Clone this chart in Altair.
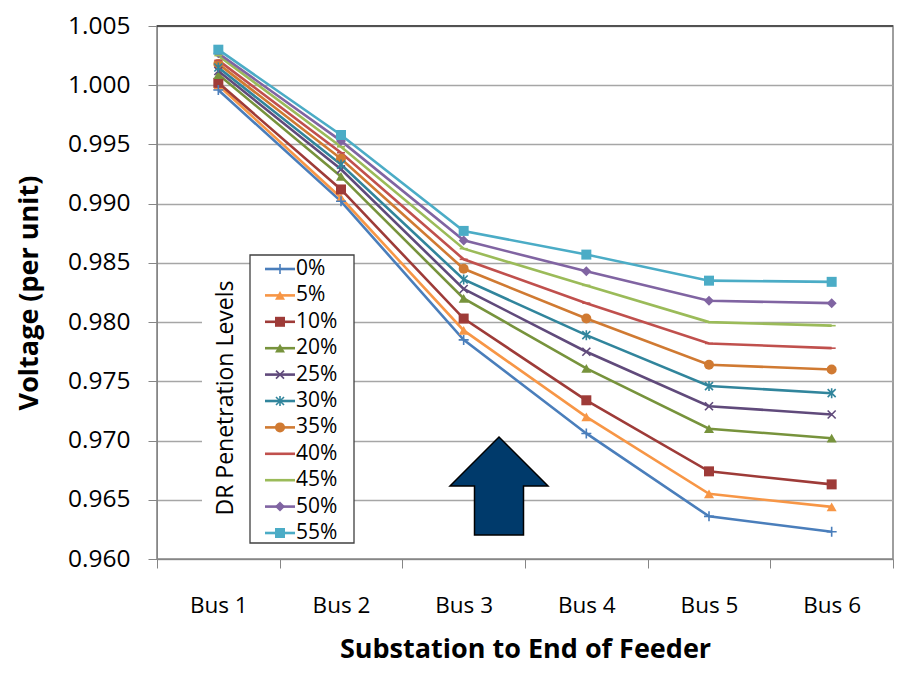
import altair as alt
import pandas as pd

buses = ["Bus 1", "Bus 2", "Bus 3", "Bus 4", "Bus 5", "Bus 6"]
levels = ["0%", "5%", "10%", "20%", "25%", "30%", "35%", "40%", "45%", "50%", "55%"]

v_0 = [0.9996, 0.9902, 0.9785, 0.9706, 0.9636, 0.9623]
v_5 = [1.0000, 0.9905, 0.9793, 0.9720, 0.9655, 0.9644]
v_10 = [1.0002, 0.9912, 0.9803, 0.9734, 0.9674, 0.9663]
v_20 = [1.0009, 0.9923, 0.9820, 0.9761, 0.9710, 0.9702]
v_25 = [1.0012, 0.9929, 0.9828, 0.9775, 0.9729, 0.9722]
v_30 = [1.0015, 0.9933, 0.9836, 0.9789, 0.9746, 0.9740]
v_35 = [1.0018, 0.9938, 0.9845, 0.9803, 0.9764, 0.9760]
v_40 = [1.0021, 0.9943, 0.9853, 0.9816, 0.9782, 0.9778]
v_45 = [1.0025, 0.9948, 0.9862, 0.9831, 0.9800, 0.9797]
v_50 = [1.0027, 0.9953, 0.9869, 0.9843, 0.9818, 0.9816]
v_55 = [1.0030, 0.9958, 0.9877, 0.9857, 0.9835, 0.9834]
series = [v_0, v_5, v_10, v_20, v_25, v_30, v_35, v_40, v_45, v_50, v_55]

y_ticks = [0.960, 0.965, 0.970, 0.975, 0.980, 0.985, 0.990, 0.995, 1.000, 1.005]

colors = ["#4A7EBB", "#F79646", "#9E3B38", "#77933C", "#604A7B", "#31859C",
          "#D07A32", "#C0504D", "#9BBB59", "#8064A2", "#4BACC6"]
PLUS = "M-1,0L1,0M0,-1L0,1"
XSH = "M-0.8,-0.8L0.8,0.8M-0.8,0.8L0.8,-0.8"
AST = "M-0.8,-0.8L0.8,0.8M-0.8,0.8L0.8,-0.8M0,-1L0,1"
DASH = "M-0.8,0L0.8,0"
shapes = [PLUS, "triangle-up", "square", "triangle-up", XSH, AST,
          "circle", DASH, DASH, "diamond", "square"]
filled_levels = ["5%", "10%", "20%", "35%", "50%", "55%"]
stroked_levels = ["0%", "25%", "30%", "40%", "45%"]

ARROW = "M0,-1L1,0L0.5,0L0.5,1L-0.5,1L-0.5,0L-1,0Z"

rows = [{"bus": b, "level": lv, "voltage": v}
        for lv, vals in zip(levels, series) for b, v in zip(buses, vals)]
df = pd.DataFrame(rows)
leg_df = pd.DataFrame({"level": levels})
one = pd.DataFrame({"a": [1]})

FONT = "Open Sans"
W, H = 736, 533
LW = 2.6

color_scale = alt.Scale(domain=levels, range=colors)
shape_scale = alt.Scale(domain=levels, range=shapes)
col = alt.Color("level:N", scale=color_scale, legend=None)
shp = alt.Shape("level:N", scale=shape_scale, legend=None)

x_enc = alt.X(
    "bus:N", sort=buses, bandPosition=0.5,
    scale=alt.Scale(type="band", domain=buses, paddingInner=0, paddingOuter=0),
    axis=alt.Axis(title="Substation to End of Feeder", labelAngle=0, tickBand="extent",
                  labelFontSize=22.5, labelPadding=26, tickSize=9, grid=False,
                  titleFontSize=27, titleFontWeight="bold", titleX=368, titleY=98,
                  titleBaseline="alphabetic", titleAlign="center"),
)
y_enc = alt.Y(
    "voltage:Q",
    scale=alt.Scale(domain=[0.960, 1.005], nice=False, zero=False),
    axis=alt.Axis(title="Voltage (per unit)", values=y_ticks, format=".3f",
                  labelFontSize=24.5, labelPadding=18, tickSize=9, grid=True,
                  gridColor="#A6A6A6", gridWidth=1.3,
                  titleFontSize=27, titleFontWeight="bold", titleX=-128, titleY=H / 2,
                  titleBaseline="middle", titleAlign="center"),
)

lines = alt.Chart(df).mark_line(strokeWidth=LW).encode(x=x_enc, y=y_enc, color=col)
pts_f = alt.Chart(df).transform_filter(
    alt.FieldOneOfPredicate(field="level", oneOf=filled_levels)
).mark_point(filled=True, size=100, opacity=1).encode(x=x_enc, y=y_enc, color=col, shape=shp)
pts_s = alt.Chart(df).transform_filter(
    alt.FieldOneOfPredicate(field="level", oneOf=stroked_levels)
).mark_point(filled=False, size=100, opacity=1, strokeWidth=1.6).encode(
    x=x_enc, y=y_enc, color=col, shape=shp)
data_group = alt.layer(lines, pts_f, pts_s)

leg_y = alt.Y("level:N", sort=levels,
              scale=alt.Scale(type="point", domain=levels, range=[243, 507], padding=0),
              axis=None)
title_bg = alt.Chart(one).mark_rect(fill="white", strokeWidth=0).encode(
    x=alt.value(45), x2=alt.value(93), y=alt.value(244), y2=alt.value(514))
leg_box = alt.Chart(one).mark_rect(fill="white", stroke="#404040", strokeWidth=1.3).encode(
    x=alt.value(93), x2=alt.value(197), y=alt.value(229), y2=alt.value(517))
leg_title = alt.Chart(one).mark_text(
    text="DR Penetration Levels", angle=270, fontSize=23, font=FONT,
    align="center", baseline="middle", color="black").encode(
    x=alt.value(69), y=alt.value(372))
leg_line = alt.Chart(leg_df).mark_rule(strokeWidth=LW).encode(
    x=alt.value(108), x2=alt.value(138), y=leg_y, color=col)
leg_pf = alt.Chart(leg_df).transform_filter(
    alt.FieldOneOfPredicate(field="level", oneOf=filled_levels)
).mark_point(filled=True, size=100, opacity=1).encode(
    x=alt.value(123), y=leg_y, color=col, shape=shp)
leg_ps = alt.Chart(leg_df).transform_filter(
    alt.FieldOneOfPredicate(field="level", oneOf=stroked_levels)
).mark_point(filled=False, size=100, opacity=1, strokeWidth=1.6).encode(
    x=alt.value(123), y=leg_y, color=col, shape=shp)
leg_text = alt.Chart(leg_df).mark_text(
    align="left", baseline="middle", fontSize=21, font=FONT, color="black").encode(
    x=alt.value(139), y=leg_y, text="level:N")
legend_group = alt.layer(title_bg, leg_box, leg_title, leg_line, leg_pf, leg_ps, leg_text)

arrow = alt.Chart(one).mark_point(
    shape=ARROW, size=9604, filled=True, fill="#003A6B", stroke="black",
    strokeWidth=1.5, opacity=1).encode(x=alt.value(342), y=alt.value(460))
top_rule = alt.Chart(one).mark_rule(color="black", strokeWidth=1).encode(
    x=alt.value(0), x2=alt.value(W), y=alt.value(0))

chart = alt.layer(data_group, legend_group, arrow, top_rule).resolve_scale(
    y="independent"
).properties(
    width=W, height=H,
    autosize=alt.AutoSizeParams(type="none"),
    padding={"left": 149, "top": 18, "right": 17, "bottom": 111},
).configure(font=FONT).configure_view(
    stroke="#7F7F7F", strokeWidth=1.5
).configure_axis(
    labelColor="black", titleColor="black", tickColor="#868686",
    domainColor="#868686", labelFont=FONT, titleFont=FONT,
)

chart.save("out.html", embed_options={"renderer": "svg", "actions": False})
